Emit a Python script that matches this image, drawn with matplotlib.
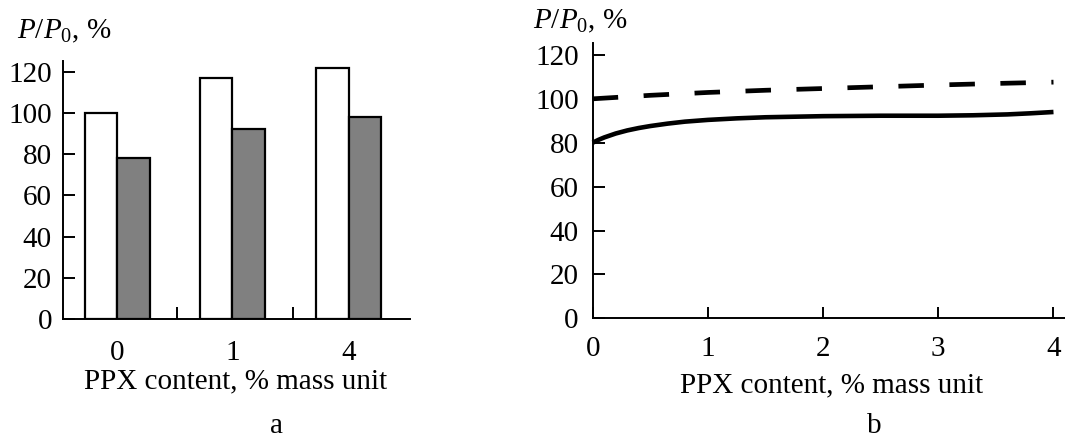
import matplotlib
matplotlib.use("Agg")
import matplotlib.pyplot as plt

plt.rcParams['font.family'] = ['Liberation Serif', 'DejaVu Serif']
plt.rcParams['mathtext.fontset'] = 'custom'
plt.rcParams['mathtext.rm'] = 'Liberation Serif'
plt.rcParams['mathtext.it'] = 'Liberation Serif:italic'

# ---- data ----
categories = ["0", "1", "4"]
white_vals = [100, 117, 122]
gray_vals = [78, 92, 98]
group_pos = [0.0, 0.994, 2.0]
sep_ticks = [0.52, 1.52]

solid_x = [0, 0.05, 0.1, 0.2, 0.3, 0.4, 0.5, 0.65, 0.8, 1.0, 1.25, 1.5, 2.0,
           2.5, 3.0, 3.3, 3.6, 3.8, 4.0]
solid_y = [80, 81.3, 82.4, 84.2, 85.6, 86.7, 87.6, 88.7, 89.6, 90.4, 91.1, 91.6,
           92.1, 92.3, 92.3, 92.5, 92.9, 93.4, 94.0]
dash_x = [0, 0.5, 1.0, 1.5, 2.0, 2.5, 3.0, 3.5, 4.0]
dash_y = [100, 101.6, 102.9, 103.9, 104.7, 105.5, 106.3, 107.0, 107.6]

yticks = [0, 20, 40, 60, 80, 100, 120]
xticks_b = [0, 1, 2, 3, 4]

FS = 21
W, H = 1065, 438
fig = plt.figure(figsize=(W / 100, H / 100), dpi=100)

def px_axes(x0, x1, ytop, ybot):
    return fig.add_axes([x0 / W, 1 - ybot / H, (x1 - x0) / W, (ybot - ytop) / H])

# ---- panel a ----
ax1 = px_axes(63, 410, 61, 319)
bw = 0.28
ax1.bar([p - bw / 2 for p in group_pos], white_vals, width=bw, color='white',
        edgecolor='black', linewidth=1.6, zorder=2)
ax1.bar([p + bw / 2 for p in group_pos], gray_vals, width=bw, color='#808080',
        edgecolor='black', linewidth=1.6, zorder=2)
ax1.set_xlim(-0.469, 2.53)
ax1.set_ylim(0, 125.2)
ax1.set_yticks(yticks)
ax1.set_xticks(group_pos)
ax1.set_xticklabels(categories)
ax1.set_xticks(sep_ticks, minor=True)
ax1.tick_params(axis='x', which='major', length=0, pad=15, labelsize=FS)
ax1.tick_params(axis='x', which='minor', direction='in', length=8.5, width=1.4)
ax1.tick_params(axis='y', direction='in', length=8.3, width=1.4, pad=8, labelsize=FS)
for s in ['top', 'right']:
    ax1.spines[s].set_visible(False)
for s in ['left', 'bottom']:
    ax1.spines[s].set_linewidth(1.4)

# ---- panel b ----
ax2 = px_axes(592.7, 1065, 43.3, 318.3)
ax2.plot(solid_x, solid_y, color='black', linewidth=3.3, solid_capstyle='butt',
         solid_joinstyle='round')
ax2.plot(dash_x, dash_y, color='black', linewidth=3.4, linestyle=(0, (5.4, 5.4)),
         dash_capstyle='butt')
ax2.set_xlim(0, 4.1)
ax2.set_ylim(0, 125.3)
ax2.set_yticks(yticks)
ax2.set_xticks(xticks_b)
ax2.tick_params(axis='x', direction='in', length=8, width=1.4, pad=13, labelsize=FS)
ax2.tick_params(axis='y', direction='in', length=8.3, width=1.4, pad=10, labelsize=FS)
for s in ['top', 'right']:
    ax2.spines[s].set_visible(False)
for s in ['left', 'bottom']:
    ax2.spines[s].set_linewidth(1.4)
for ax in (ax1, ax2):
    ax.patch.set_alpha(0)
    for ln in ax.lines:
        ln.set_clip_on(False)

# ---- texts ----
ylab = r"$P/P_0$, %"
fig.text(16.7 / W, 1 - 38.3 / H, ylab, fontsize=FS, ha='left', va='baseline')
fig.text(533.3 / W, 1 - 28.3 / H, ylab, fontsize=FS, ha='left', va='baseline')
xlab = "PPX content, % mass unit"
fig.text(236 / W, 1 - 388.3 / H, xlab, fontsize=FS, ha='center', va='baseline')
fig.text(832 / W, 1 - 392.7 / H, xlab, fontsize=FS, ha='center', va='baseline')
fig.text(276.7 / W, 1 - 433.3 / H, "a", fontsize=FS, ha='center', va='baseline')
fig.text(874 / W, 1 - 433.3 / H, "b", fontsize=FS, ha='center', va='baseline')

fig.savefig("out.png", dpi=100)
